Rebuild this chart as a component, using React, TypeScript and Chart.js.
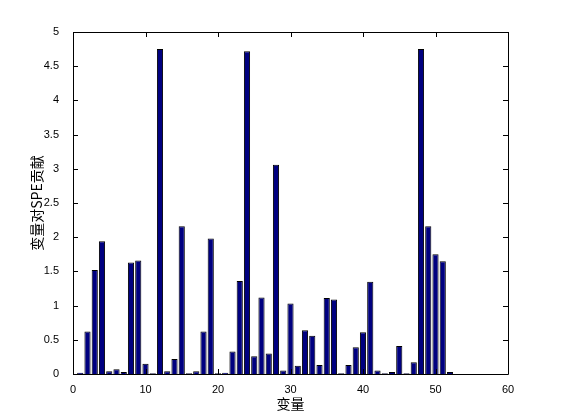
import React, { useEffect, useRef } from "react";
import { Chart, registerables } from "chart.js";

Chart.register(...registerables);

const variables = [
  1, 2, 3, 4, 5, 6, 7, 8, 9, 10, 11, 12, 13, 14, 15, 16, 17, 18, 19, 20, 21, 22, 23, 24, 25, 26,
  27, 28, 29, 30, 31, 32, 33, 34, 35, 36, 37, 38, 39, 40, 41, 42, 43, 44, 45, 46, 47, 48, 49, 50,
  51, 52,
];
const speContrib = [
  0.02, 0.62, 1.52, 1.94, 0.04, 0.07, 0.03, 1.63, 1.66, 0.15, 0.01, 4.75, 0.04, 0.22, 2.16, 0.01,
  0.04, 0.62, 1.98, 0.01, 0.02, 0.33, 1.36, 4.72, 0.26, 1.12, 0.3, 3.06, 0.05, 1.03, 0.12, 0.64,
  0.56, 0.13, 1.11, 1.09, 0.01, 0.13, 0.39, 0.61, 1.35, 0.05, 0.01, 0.03, 0.41, 0.01, 0.17, 4.75,
  2.16, 1.75, 1.65, 0.03,
];
const xTitle = "变量";
const yTitle = "变量对SPE贡献";

const tickFont = { family: "'Liberation Sans', Arial, sans-serif", size: 11 };
const titleFont = { family: "'Noto Sans CJK SC', sans-serif", size: 14 };

const boxPlugin = {
  id: "matlabBox",
  afterDatasetsDraw(chart: any) {
    const { ctx, chartArea: a, scales } = chart;
    const x = scales.x;
    const y = scales.y;
    const len = 5;
    ctx.save();
    ctx.strokeStyle = "#000";
    ctx.lineWidth = 1;
    ctx.beginPath();
    ctx.rect(Math.round(a.left) + 0.5, Math.round(a.top) + 0.5, Math.round(a.right - a.left), Math.round(a.bottom - a.top));
    for (const t of x.ticks) {
      const px = Math.round(x.getPixelForValue(t.value)) + 0.5;
      ctx.moveTo(px, a.bottom);
      ctx.lineTo(px, a.bottom - len);
      ctx.moveTo(px, a.top);
      ctx.lineTo(px, a.top + len);
    }
    for (const t of y.ticks) {
      const py = Math.round(y.getPixelForValue(t.value)) + 0.5;
      ctx.moveTo(a.left, py);
      ctx.lineTo(a.left + len, py);
      ctx.moveTo(a.right, py);
      ctx.lineTo(a.right - len, py);
    }
    ctx.stroke();
    ctx.restore();
  },
};

export default function App() {
  const ref = useRef<HTMLCanvasElement | null>(null);
  useEffect(() => {
    document.body.style.margin = "0";
    const canvas = ref.current;
    if (!canvas) return;
    const chart = new Chart(canvas, {
      type: "bar",
      data: {
        datasets: [
          {
            data: variables.map((v, i) => ({ x: v, y: speContrib[i] })),
            backgroundColor: "#000080",
            borderColor: "#000000",
            borderWidth: 1,
            barPercentage: 0.85,
            categoryPercentage: 1,
          },
        ],
      },
      options: {
        responsive: false,
        animation: false,
        events: [],
        layout: { padding: { left: 0, right: 53, top: 32, bottom: 0 } },
        plugins: { legend: { display: false }, tooltip: { enabled: false } },
        scales: {
          x: {
            type: "linear",
            min: 0,
            max: 60,
            offset: false,
            grid: { display: false, offset: false },
            border: { display: false },
            ticks: { stepSize: 10, color: "#000", font: tickFont, padding: 1, maxRotation: 0 },
            title: { display: true, text: xTitle, color: "#000", font: titleFont, padding: { top: 0, bottom: 8 } },
            afterFit(scale: any) {
              scale.height = 46;
            },
          },
          y: {
            min: 0,
            max: 5,
            grid: { display: false },
            border: { display: false },
            ticks: {
              stepSize: 0.5,
              color: "#000",
              font: tickFont,
              padding: 6,
              callback: (v: any) => String(v),
            },
            title: { display: true, text: yTitle, color: "#000", font: titleFont, padding: { top: 28, bottom: 4 } },
            afterFit(scale: any) {
              scale.width = 73;
            },
          },
        },
      },
      plugins: [boxPlugin],
    } as any);
    return () => chart.destroy();
  }, []);
  return (
    <div style={{ position: "absolute", left: 0, top: 0, width: 561, height: 420, background: "#fff" }}>
      <canvas ref={ref} width={561} height={420} />
    </div>
  );
}
